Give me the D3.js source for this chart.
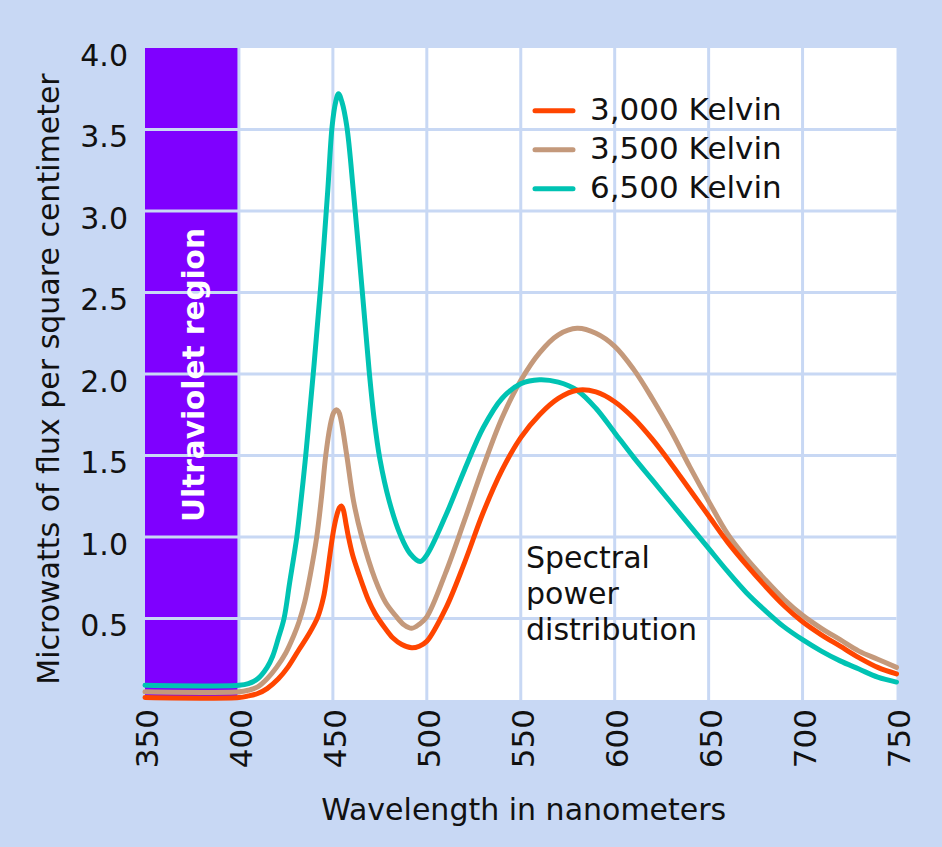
<!DOCTYPE html>
<html>
<head>
<meta charset="utf-8">
<script src="https://cdn.jsdelivr.net/npm/d3@7"></script>
<style>
  body { margin: 0; background: #c8d8f4; }
  svg { display: block; }
  text { font-family: "DejaVu Sans", sans-serif; }
</style>
</head>
<body>
<svg id="chart" width="942" height="847"></svg>
<script>
// ---------- data ----------
const wavelengthTicks = [350, 400, 450, 500, 550, 600, 650, 700, 750];
const fluxTicks = [0.5, 1.0, 1.5, 2.0, 2.5, 3.0, 3.5, 4.0];
const uvRange = [350, 400];

const seriesNames = ["3,000 Kelvin", "3,500 Kelvin", "6,500 Kelvin"];
const seriesColors = ["#ff4500", "#c4997b", "#00c3b3"];

const wl3000 = [350, 400, 405, 410, 415, 421, 426, 432, 437, 442,
  445, 447, 449, 450.5, 452, 453.5, 454.5, 455.5, 457, 458.3, 460.5,
  463.6, 469, 472.5, 477.8, 482, 486.7, 492, 496, 500,
  510, 520, 530, 540, 550, 560, 570, 580, 590, 600,
  610, 620, 630, 640, 650, 660, 670, 680, 690, 700,
  710, 720, 730, 740, 750];
const flux3000 = [0.015, 0.015, 0.025, 0.04, 0.07, 0.13, 0.20, 0.31, 0.40, 0.51,
  0.63, 0.77, 0.94, 1.05, 1.13, 1.18, 1.19, 1.17, 1.08, 1.00, 0.89,
  0.78, 0.61, 0.53, 0.44, 0.38, 0.34, 0.32, 0.33, 0.36,
  0.56, 0.84, 1.15, 1.41, 1.61, 1.75, 1.85, 1.90, 1.89, 1.83,
  1.73, 1.60, 1.45, 1.29, 1.13, 0.97, 0.83, 0.70, 0.58, 0.48,
  0.40, 0.33, 0.26, 0.20, 0.16];

const wl3500 = [350, 400, 405, 410, 415, 420, 425, 429, 432, 435, 438,
  441.4, 444, 446.2, 448.5, 450.3, 451.7, 453, 454.3, 457.4, 461,
  465.4, 472.5, 478, 483.2, 488, 492, 496, 500,
  510, 520, 530, 540, 550, 560, 570, 580, 590, 600,
  610, 620, 630, 640, 650, 660, 670, 680, 690, 700,
  710, 720, 730, 740, 750];
const flux3500 = [0.05, 0.05, 0.06, 0.08, 0.13, 0.20, 0.29, 0.39, 0.48, 0.60, 0.77,
  1.00, 1.25, 1.50, 1.68, 1.76, 1.78, 1.77, 1.72, 1.50, 1.22,
  1.00, 0.74, 0.60, 0.52, 0.46, 0.44, 0.465, 0.51,
  0.78, 1.10, 1.43, 1.73, 1.96, 2.13, 2.24, 2.28, 2.25, 2.17,
  2.03, 1.85, 1.65, 1.43, 1.22, 1.02, 0.87, 0.74, 0.62, 0.52,
  0.44, 0.37, 0.30, 0.25, 0.20];

const wl6500 = [350, 400, 405, 410, 415, 418, 421, 424, 427, 430.8,
  433, 435.2, 437, 440, 443.6, 447.3, 449.6, 451.5, 453, 454.8,
  457.4, 461, 465.7, 469.3, 472, 475, 480, 486, 491, 496.5, 500,
  510, 520, 530, 540, 550, 560, 570, 580, 590, 600,
  610, 620, 630, 640, 650, 660, 670, 680, 690, 700,
  710, 720, 730, 740, 750];
const flux6500 = [0.09, 0.09, 0.10, 0.13, 0.20, 0.27, 0.38, 0.50, 0.72, 1.00,
  1.22, 1.46, 1.68, 2.06, 2.55, 3.13, 3.52, 3.67, 3.72, 3.67,
  3.52, 3.11, 2.50, 2.02, 1.72, 1.48, 1.22, 1.01, 0.90, 0.85, 0.89,
  1.13, 1.41, 1.67, 1.85, 1.94, 1.965, 1.95, 1.90, 1.79, 1.64,
  1.49, 1.35, 1.21, 1.07, 0.93, 0.79, 0.66, 0.55, 0.45, 0.37,
  0.30, 0.24, 0.19, 0.14, 0.11];

const seriesWl = [wl3000, wl3500, wl6500];
const seriesFlux = [flux3000, flux3500, flux6500];

// ---------- layout ----------
const W = 942, H = 847;
const bg = "#c8d8f4";
const gridColor = "#c8d8f4";
const textColor = "#111";

const svg = d3.select("#chart");
svg.append("rect").attr("width", W).attr("height", H).attr("fill", bg);

const x = d3.scaleLinear().domain([350, 750]).range([145, 896.5]);
const y = d3.scaleLinear().domain([0, 4]).range([700, 48]);

// plot background
svg.append("rect")
  .attr("x", x(350)).attr("y", y(4))
  .attr("width", x(750) - x(350)).attr("height", y(0) - y(4))
  .attr("fill", "#fff");

// ultraviolet band
svg.append("rect")
  .attr("x", x(uvRange[0])).attr("y", y(4))
  .attr("width", x(uvRange[1]) - x(uvRange[0])).attr("height", y(0) - y(4))
  .attr("fill", "#7f00ff");

// grid
const grid = svg.append("g").attr("stroke", gridColor).attr("stroke-width", 3);
grid.selectAll("line.v").data(wavelengthTicks.slice(1, -1)).join("line")
  .attr("x1", d => x(d)).attr("x2", d => x(d))
  .attr("y1", y(4)).attr("y2", y(0));
grid.selectAll("line.h").data(fluxTicks.filter(d => d < 4)).join("line")
  .attr("x1", x(350)).attr("x2", x(750))
  .attr("y1", d => y(d)).attr("y2", d => y(d));

// UV label
svg.append("text")
  .attr("transform", `translate(${(x(uvRange[0]) + x(uvRange[1])) / 2 + 12},${(y(0) + y(4)) / 2 + 1}) rotate(-90)`)
  .attr("text-anchor", "middle")
  .attr("fill", "#fff")
  .style("font-weight", "bold")
  .style("font-size", "29.5px")
  .text("Ultraviolet region");

// curves
const line = d3.line()
  .x(d => x(d[0])).y(d => y(d[1]))
  .curve(d3.curveCatmullRom.alpha(0.5));
const drawOrder = [1, 2, 0];
drawOrder.forEach(i => {
  svg.append("path")
    .datum(d3.zip(seriesWl[i], seriesFlux[i]))
    .attr("fill", "none")
    .attr("stroke", seriesColors[i])
    .attr("stroke-width", 5)
    .attr("stroke-linecap", "round")
    .attr("stroke-linejoin", "round")
    .attr("d", line);
});

// x axis
const xAxis = d3.axisBottom(x).tickValues(wavelengthTicks).tickSize(0).tickFormat(d3.format("d"));
const gx = svg.append("g").attr("transform", `translate(0,${y(0)})`).call(xAxis);
gx.attr("font-size", null).attr("font-family", null);
gx.select(".domain").remove();
gx.selectAll("text")
  .attr("transform", "rotate(-90)")
  .attr("x", -9).attr("y", 12.5).attr("dy", "0")
  .style("text-anchor", "end")
  .style("font-size", "31px")
  .attr("fill", textColor);

// y axis
const yAxis = d3.axisLeft(y).tickValues(fluxTicks).tickSize(0).tickFormat(d3.format(".1f"));
const gy = svg.append("g").attr("transform", `translate(${x(350)},0)`).call(yAxis);
gy.attr("font-size", null).attr("font-family", null);
gy.select(".domain").remove();
gy.selectAll("text")
  .attr("x", -17).attr("y", 17).attr("dy", "0")
  .style("text-anchor", "end")
  .style("font-size", "30px")
  .attr("fill", textColor);

// axis titles
svg.append("text")
  .attr("x", (x(350) + x(750)) / 2 + 3).attr("y", 820)
  .attr("text-anchor", "middle")
  .style("font-size", "30px")
  .attr("fill", textColor)
  .text("Wavelength in nanometers");

svg.append("text")
  .attr("transform", `translate(58.5,${(y(0) + y(4)) / 2 + 5}) rotate(-90)`)
  .attr("text-anchor", "middle")
  .style("font-size", "30px")
  .attr("fill", textColor)
  .text("Microwatts of flux per square centimeter");

// legend
const legend = svg.append("g");
seriesNames.forEach((name, i) => {
  const ly = 110.7 + i * 39;
  legend.append("line")
    .attr("x1", 535).attr("x2", 573).attr("y1", ly).attr("y2", ly)
    .attr("stroke", seriesColors[i]).attr("stroke-width", 5).attr("stroke-linecap", "round");
  legend.append("text")
    .attr("x", 590).attr("y", ly + 9)
    .style("font-size", "31px")
    .attr("fill", textColor)
    .text(name);
});

// annotation
const note = svg.append("text")
  .attr("x", 526).attr("y", 568)
  .style("font-size", "30px")
  .attr("fill", textColor);
["Spectral", "power", "distribution"].forEach((t, i) => {
  note.append("tspan").attr("x", 526).attr("dy", i === 0 ? 0 : 36).text(t);
});
</script>
</body>
</html>
